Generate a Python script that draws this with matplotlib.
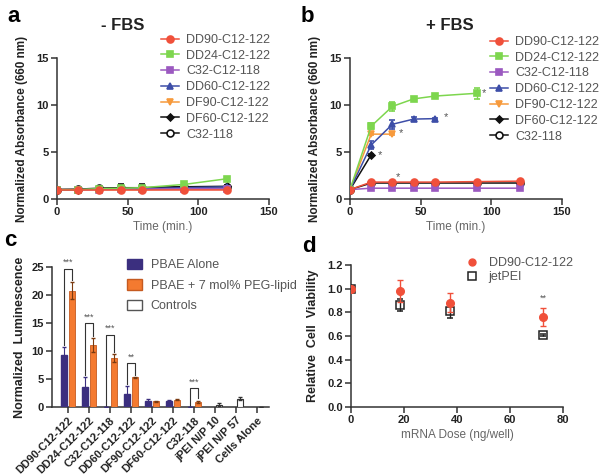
import numpy as np
import matplotlib
matplotlib.use('Agg')
import matplotlib.pyplot as plt
from matplotlib.patches import Patch
from matplotlib.lines import Line2D

plt.rcParams['font.family'] = ['Liberation Sans', 'DejaVu Sans']

# ---- panel a / b : turbidity data
times = [0, 15, 30, 45, 60, 90, 120]
series_names = ['DD90-C12-122', 'DD24-C12-122', 'C32-C12-118', 'DD60-C12-122',
                'DF90-C12-122', 'DF60-C12-122', 'C32-118']
series_colors = ['#f0503a', '#7dd64e', '#9b59c0', '#3d4ea8', '#f79a3c', '#111111', '#111111']
series_markers = ['o', 's', 's', '^', 'v', 'D', 'o']

a_vals = [
    [1.0, 1.0, 1.0, 1.0, 1.0, 1.0, 1.0],
    [1.0, 1.0, 1.1, 1.15, 1.2, 1.55, 2.15],
    [1.0, 1.0, 1.0, 1.05, 1.05, 1.1, 1.1],
    [1.0, 1.0, 1.05, 1.1, 1.1, 1.2, 1.3],
    [1.0, 1.0, 1.0, 1.0, 1.0, 1.05, 1.05],
    [1.0, 1.0, 1.1, 1.15, 1.15, 1.3, 1.35],
    [1.0, 1.05, 1.15, 1.2, 1.2, 1.3, 1.3],
]
a_errs = [
    [0, 0, 0, 0, 0, 0, 0.1],
    [0, 0, 0, 0, 0, 0.1, 0.15],
    [0, 0, 0, 0, 0, 0, 0],
    [0, 0, 0, 0, 0, 0, 0],
    [0, 0, 0, 0, 0, 0, 0],
    [0, 0, 0, 0, 0, 0, 0],
    [0, 0.05, 0.15, 0.4, 0.4, 0.15, 0.15],
]

b_vals = [
    [1.0, 1.8, 1.8, 1.8, 1.8, 1.85, 1.9],
    [1.0, 7.75, 9.85, 10.65, 10.95, 11.25],
    [1.0, 1.15, 1.15, 1.15, 1.15, 1.15, 1.15],
    [1.0, 5.75, 7.95, 8.5, 8.55],
    [1.0, 6.9, 6.9],
    [1.0, 4.7],
    [1.0, 1.7, 1.7, 1.7, 1.7, 1.7, 1.7],
]
b_errs = [
    [0, 0.1, 0.1, 0.1, 0.1, 0.1, 0.1],
    [0, 0.3, 0.5, 0.2, 0.2, 0.6],
    [0, 0, 0, 0, 0, 0, 0],
    [0, 0.4, 0.5, 0.2, 0.1],
    [0, 0.1, 0.1],
    [0, 0.1],
    [0, 0.1, 0.1, 0.1, 0.1, 0.1, 0.1],
]
b_star_x = [95, 68, 36, 21, 34]
b_star_y = [11.3, 8.7, 7.05, 4.7, 2.3]

# ---- panel c : luminescence bars
c_groups = ['DD90-C12-122', 'DD24-C12-122', 'C32-C12-118', 'DD60-C12-122',
            'DF90-C12-122', 'DF60-C12-122', 'C32-118', 'jPEI N/P 10',
            'jPEI N/P 57', 'Cells Alone']
pbae = [9.3, 3.6, 0.0, 2.4, 1.1, 1.1, 0.05]
pbae_err = [1.4, 1.7, 0.0, 1.3, 0.25, 0.1, 0.0]
peg = [20.8, 11.1, 8.8, 5.3, 1.0, 1.3, 0.9]
peg_err = [1.5, 1.2, 0.7, 0.1, 0.1, 0.1, 0.25]
ctrl = [0.4, 1.5, 0.0]
ctrl_err = [0.25, 0.2, 0.0]
sig_idx = [0, 1, 2, 3, 6]
sig_top = [24.7, 15.0, 12.9, 7.8, 3.4]
sig_txt = ['***', '***', '***', '**', '***']

# ---- panel d : viability
dose = [0, 18.5, 37.5, 72.5]
dd90_via = [1.0, 0.98, 0.88, 0.76]
dd90_err = [0.02, 0.09, 0.08, 0.075]
jet_via = [1.0, 0.86, 0.81, 0.61]
jet_err = [0.02, 0.05, 0.06, 0.01]

W, H = 601, 475
fig = plt.figure(figsize=(W / 100, H / 100), dpi=100)


def box(l, t, r, b):
    return [l / W, 1 - b / H, (r - l) / W, (b - t) / H]


def style(ax):
    for s in ['top', 'right']:
        ax.spines[s].set_visible(False)
    for s in ['left', 'bottom']:
        ax.spines[s].set_linewidth(1.1)
        ax.spines[s].set_color('#333333')
    ax.tick_params(direction='out', length=4, width=1.1, color='#333333',
                   labelsize=8, pad=2)
    for lb in ax.get_xticklabels() + ax.get_yticklabels():
        lb.set_fontweight('bold')
        lb.set_color('#222222')


def time_panel(ax, vals, errs, title, tx, leg_x, leg_y):
    for i in range(len(vals)):
        t = times[:len(vals[i])]
        mfc = 'white' if i == 6 else series_colors[i]
        ms = 3.5 if series_markers[i] == 'D' else 5
        ax.errorbar(t, vals[i], yerr=errs[i], color=series_colors[i],
                    marker=series_markers[i], ms=ms, mfc=mfc,
                    mec=series_colors[i], mew=1.2, lw=1.1, capsize=2.5,
                    elinewidth=1, label=series_names[i], zorder=3 + (6 - i) * 0.1)
    ax.set_xlim(0, 150)
    ax.set_ylim(0, 15)
    ax.set_xticks([0, 50, 100, 150])
    ax.set_yticks([0, 5, 10, 15])
    ax.set_xlabel('Time (min.)', fontsize=8.5, color='#666666', labelpad=3)
    ax.set_ylabel('Normalized Absorbance (660 nm)', fontsize=8.5,
                  fontweight='bold', color='#222222', labelpad=6)
    style(ax)
    handles = [Line2D([], [], color=series_colors[i], marker=series_markers[i],
                      ms=3.5 if series_markers[i] == 'D' else 5,
                      mfc='white' if i == 6 else series_colors[i],
                      mec=series_colors[i], mew=1.2, lw=1.1)
               for i in range(7)]
    leg = fig.legend(handles, series_names, loc='upper left',
                     bbox_to_anchor=(leg_x / W, 1 - leg_y / H), frameon=False,
                     fontsize=9, handlelength=1.4, handletextpad=0.6,
                     labelspacing=0.3, borderpad=0, borderaxespad=0)
    for tt in leg.get_texts():
        tt.set_color('#555555')
    fig.text(tx / W, 1 - 26 / H, title, fontsize=12, fontweight='bold',
             ha='center', va='center', color='#222222')


ax_a = fig.add_axes(box(57, 58, 269, 199))
time_panel(ax_a, a_vals, a_errs, '- FBS', 123, 161, 34)

ax_b = fig.add_axes(box(350, 58, 562, 199))
time_panel(ax_b, b_vals, b_errs, '+ FBS', 450, 490, 36)
for x, y in zip(b_star_x, b_star_y):
    ax_b.text(x, y, '*', fontsize=8, color='#555555', ha='center', va='center')

# panel c
ax_c = fig.add_axes(box(52, 267, 269, 407))
x = np.arange(len(c_groups))
off = 0.19
bw = 0.28
n = len(pbae)
ax_c.bar(x[:n] - off, pbae, bw, yerr=pbae_err, color='#3b2f7f',
         edgecolor='#3b2f7f', capsize=1.5, error_kw=dict(lw=0.8, ecolor='#3b2f7f'),
         label='PBAE Alone', zorder=3)
ax_c.bar(x[:n] + off, peg, bw, yerr=peg_err, color='#f47a30',
         edgecolor='#c55a20', lw=0.6, capsize=1.5,
         error_kw=dict(lw=0.8, ecolor='#7a3a10'),
         label='PBAE + 7 mol% PEG-lipid', zorder=3)
ax_c.bar(x[n:] + off, ctrl, bw, yerr=ctrl_err, color='white',
         edgecolor='#333333', lw=0.8, capsize=1.5,
         error_kw=dict(lw=0.8, ecolor='#333333'), label='Controls', zorder=3)
for k, gi in enumerate(sig_idx):
    y_l = pbae[gi] + pbae_err[gi] + 0.4 if pbae[gi] > 0.1 else 0
    y_r = peg[gi] + peg_err[gi] + 0.4
    ax_c.plot([gi - off, gi - off, gi + off, gi + off],
              [y_l, sig_top[k], sig_top[k], y_r], color='#333333', lw=0.8)
    ax_c.text(gi, sig_top[k] + 0.3, sig_txt[k], fontsize=6.5, color='#555555',
              ha='center', va='bottom')
ax_c.set_xlim(-0.75, 9.55)
ax_c.set_ylim(0, 25)
ax_c.set_yticks([0, 5, 10, 15, 20, 25])
ax_c.set_xticks(x)
ax_c.set_xticklabels(c_groups, rotation=45, ha='right', rotation_mode='anchor')
ax_c.set_ylabel('Normalized  Luminescence', fontsize=9, fontweight='bold',
                color='#222222', labelpad=4)
style(ax_c)
leg_c = fig.legend(handles=[Patch(fc='#3b2f7f', ec='#3b2f7f'),
                            Patch(fc='#f47a30', ec='#c55a20'),
                            Patch(fc='white', ec='#555555')],
                   labels=['PBAE Alone', 'PBAE + 7 mol% PEG-lipid', 'Controls'],
                   loc='upper left', bbox_to_anchor=(127 / W, 1 - 259 / H),
                   frameon=False, fontsize=9, handlelength=1.2, handleheight=0.9,
                   handletextpad=0.7, labelspacing=0.62, borderpad=0,
                   borderaxespad=0)
for tt in leg_c.get_texts():
    tt.set_color('#555555')

# panel d
ax_d = fig.add_axes(box(351, 265, 563, 407))
ax_d.errorbar(dose, dd90_via, yerr=dd90_err, color='#f0503a', marker='o', ms=5.5,
              ls='none', capsize=2.5, elinewidth=1, zorder=4)
ax_d.errorbar(dose, jet_via, yerr=jet_err, color='#222222', marker='s', ms=6,
              mfc='none', mew=1.1, ls='none', capsize=2.5, elinewidth=1,
              zorder=3)
ax_d.text(dose[3], 0.9, '**', fontsize=6.5, color='#555555', ha='center')
ax_d.set_xlim(0, 80)
ax_d.set_ylim(0, 1.2)
ax_d.set_xticks([0, 20, 40, 60, 80])
ax_d.set_yticks([0.0, 0.2, 0.4, 0.6, 0.8, 1.0, 1.2])
ax_d.set_yticklabels(['0.0', '0.2', '0.4', '0.6', '0.8', '1.0', '1.2'])
ax_d.set_xlabel('mRNA Dose (ng/well)', fontsize=8.5, color='#666666', labelpad=3)
ax_d.set_ylabel('Relative  Cell  Viability', fontsize=9, fontweight='bold',
                color='#222222', labelpad=6)
style(ax_d)
d_handles = [Line2D([], [], color='#f0503a', marker='o', ms=5, ls='none'),
             Line2D([], [], color='#222222', marker='s', ms=5.5, mfc='none',
                    mew=1.1, ls='none')]
leg_d = fig.legend(d_handles, ['DD90-C12-122', 'jetPEI'], loc='upper left',
                   bbox_to_anchor=(466 / W, 1 - 257 / H), frameon=False,
                   fontsize=9, handlelength=1.0, handletextpad=0.8,
                   labelspacing=0.15, borderpad=0, borderaxespad=0)
for tt in leg_d.get_texts():
    tt.set_color('#555555')

# panel letters
for lt, px, py in [('a', 14, 16), ('b', 307, 16), ('c', 10, 241), ('d', 309, 246)]:
    fig.text(px / W, 1 - py / H, lt, fontsize=16, fontweight='bold',
             ha='center', va='center')

fig.savefig('out.png', dpi=100)
